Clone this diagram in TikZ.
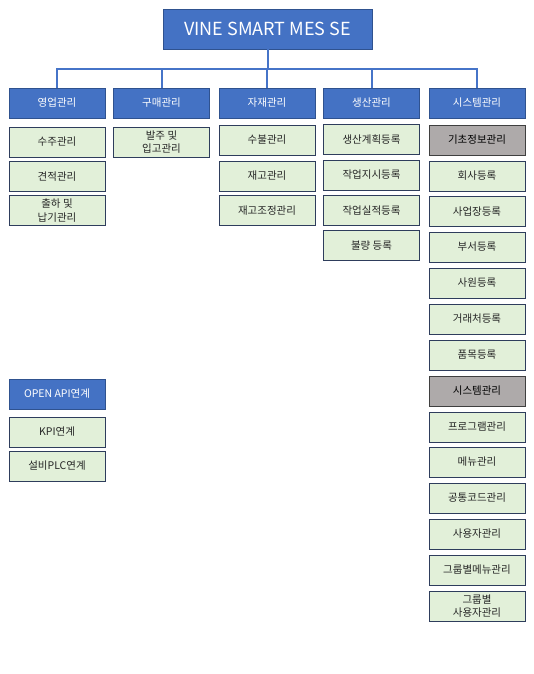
\documentclass[tikz,border=0pt]{standalone}
\usepackage{fontspec}
\setmainfont{Noto Sans CJK KR}
\definecolor{bluefill}{HTML}{4472C4}
\definecolor{blueborder}{HTML}{2F528F}
\definecolor{greenfill}{HTML}{E2F0D9}
\definecolor{greenborder}{HTML}{2E3D5C}
\definecolor{grayfill}{HTML}{AEAAAA}
\definecolor{grayborder}{HTML}{3F3F3F}
\definecolor{linecol}{HTML}{4674C8}
\begin{document}
\begin{tikzpicture}[x=1pt,y=-1pt,
  base/.style={rectangle, inner sep=1pt, align=center, line width=0.9pt, font=\fontsize{10.5}{13.5}\selectfont},
  topbox/.style={base, fill=bluefill, draw=blueborder, text=white, minimum width=209pt, minimum height=40pt, font=\fontsize{18}{20}\selectfont},
  headbox/.style={base, fill=bluefill, draw=blueborder, text=white, minimum width=96pt, minimum height=30pt},
  itembox/.style={base, fill=greenfill, draw=greenborder, text=black!85, minimum width=96pt, minimum height=30pt},
  graybox/.style={base, fill=grayfill, draw=grayborder, text=black, minimum width=96pt, minimum height=30pt},
  conn/.style={draw=linecol, line width=2pt}
]
\useasboundingbox (0,0) rectangle (534,674);
\fill[white] (0,0) rectangle (534,674);

\node[topbox] (top) at (267.5,29) {VINE SMART MES SE};

\node[headbox] (h1) at (57,103) {영업관리};
\node[headbox] (h2) at (161.5,103) {구매관리};
\node[headbox] (h3) at (267,103) {자재관리};
\node[headbox] (h4) at (371.5,103) {생산관리};
\node[headbox] (h5) at (477,103) {시스템관리};

\foreach \n in {h1,h2,h3,h4,h5}
  \draw[conn] (top.south) -- ++(0,20) -| (\n.north);

% column 1
\node[itembox] (a1) at (57,142) {수주관리};
\node[itembox] (a2) at (57,176.5) {견적관리};
\node[itembox] (a3) at (57,210.5) {출하 및\\납기관리};
% column 2
\node[itembox] (b1) at (161.5,142) {발주 및\\입고관리};
% column 3
\node[itembox] (c1) at (267,140) {수불관리};
\node[itembox] (c2) at (267,176) {재고관리};
\node[itembox] (c3) at (267,210.5) {재고조정관리};
% column 4
\node[itembox] (d1) at (371.5,139.5) {생산계획등록};
\node[itembox] (d2) at (371.5,175) {작업지시등록};
\node[itembox] (d3) at (371.5,210.5) {작업실적등록};
\node[itembox] (d4) at (371.5,245.5) {불량 등록};
% column 5
\node[graybox] (e1) at (477,140) {기초정보관리};
\node[itembox] (e2) at (477,176) {회사등록};
\node[itembox] (e3) at (477,211.5) {사업장등록};
\node[itembox] (e4) at (477,247) {부서등록};
\node[itembox] (e5) at (477,283) {사원등록};
\node[itembox] (e6) at (477,319) {거래처등록};
\node[itembox] (e7) at (477,355) {품목등록};
\node[graybox] (e8) at (477,391) {시스템관리};
\node[itembox] (e9) at (477,427) {프로그램관리};
\node[itembox] (e10) at (477,462) {메뉴관리};
\node[itembox] (e11) at (477,498) {공통코드관리};
\node[itembox] (e12) at (477,534) {사용자관리};
\node[itembox] (e13) at (477,570) {그룹별메뉴관리};
\node[itembox] (e14) at (477,606) {그룹별\\사용자관리};

% OPEN API
\node[headbox] (o1) at (57,394) {OPEN API연계};
\node[itembox] (o2) at (57,432) {KPI연계};
\node[itembox] (o3) at (57,466) {설비PLC연계};
\end{tikzpicture}
\end{document}
